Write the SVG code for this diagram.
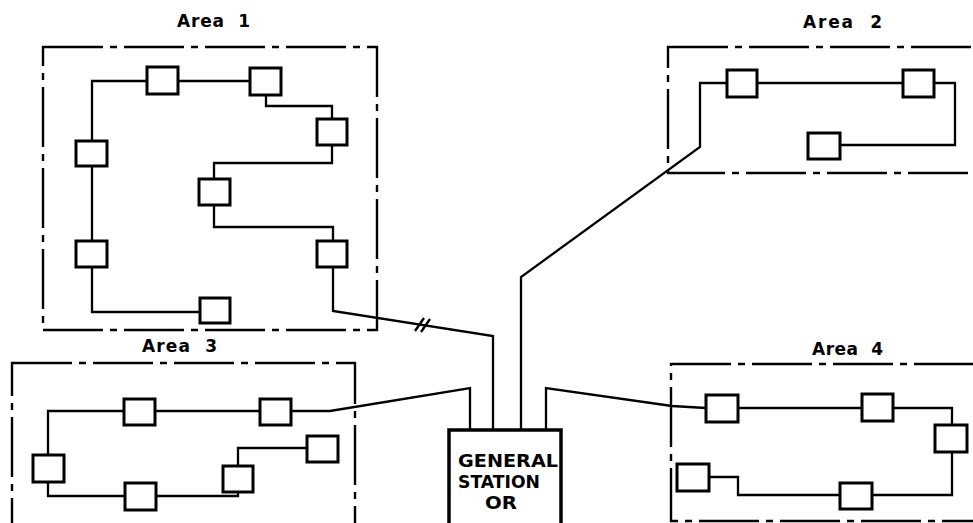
<svg xmlns="http://www.w3.org/2000/svg" width="973" height="523" viewBox="0 0 973 523">
<style>
.area{fill:none;stroke:#000;stroke-width:2.4;stroke-dasharray:60 7 7 7}
.node{fill:#fff;stroke:#000;stroke-width:3}
.wire{fill:none;stroke:#000;stroke-width:2.3;stroke-linejoin:miter}
.lbl{font-family:"DejaVu Sans","Liberation Sans",sans-serif;font-size:17px;font-weight:bold;fill:#000}
.st{font-family:"DejaVu Sans","Liberation Sans",sans-serif;font-size:18px;font-weight:bold;fill:#000}
</style>
<rect width="973" height="523" fill="#fff"/>

<g id="area1">
<rect class="area" x="43" y="47" width="334" height="283"/>
<text class="lbl" x="177" y="27" textLength="73" lengthAdjust="spacing" xml:space="preserve">Area  1</text>
</g>
<g id="area2">
<rect class="area" x="668" y="47" width="330" height="126"/>
<text class="lbl" x="803" y="28" textLength="79" lengthAdjust="spacing" xml:space="preserve">Area  2</text>
</g>
<g id="area3">
<rect class="area" x="12" y="363" width="343" height="200"/>
<text class="lbl" x="142" y="352" textLength="75" lengthAdjust="spacing" xml:space="preserve">Area  3</text>
</g>
<g id="area4">
<rect class="area" x="671" y="364" width="330" height="157"/>
<text class="lbl" x="812" y="355" textLength="71" lengthAdjust="spacing" xml:space="preserve">Area  4</text>
</g>

<g id="connectors">
<!-- Area 1 -->
<polyline class="wire" points="147,81 92,81 92,141"/>
<line class="wire" x1="178" y1="81" x2="250" y2="81"/>
<polyline class="wire" points="266,95 266,106 332,106 332,119"/>
<polyline class="wire" points="332,145 332,163 214,163 214,179"/>
<polyline class="wire" points="214,205 214,227 333,227 333,241"/>
<line class="wire" x1="92" y1="166" x2="92" y2="241"/>
<polyline class="wire" points="92,267 92,312 200,312"/>
<polyline class="wire" points="333,267 333,311 493,336 493,430"/>
<line class="wire" x1="415" y1="331" x2="424" y2="318"/>
<line class="wire" x1="421" y1="332" x2="430" y2="319"/>
<!-- Area 2 -->
<line class="wire" x1="757" y1="83" x2="903" y2="83"/>
<polyline class="wire" points="934,83 955,83 955,145 840,145"/>
<polyline class="wire" points="727,83 700,83 700,147 521,277 521,430"/>
<!-- Area 3 -->
<polyline class="wire" points="48,455 48,411 124,411"/>
<line class="wire" x1="155" y1="411" x2="260" y2="411"/>
<polyline class="wire" points="291,411 330,411 470,388 470,430"/>
<polyline class="wire" points="48,482 48,496 125,496"/>
<polyline class="wire" points="156,496 238,496 238,492"/>
<polyline class="wire" points="238,466 238,448 307,448"/>
<!-- Area 4 -->
<polyline class="wire" points="546,430 546,388 672,406 706,408"/>
<line class="wire" x1="738" y1="408" x2="862" y2="408"/>
<polyline class="wire" points="893,408 952,408 952,425"/>
<polyline class="wire" points="952,452 952,495 872,495"/>
<polyline class="wire" points="840,495 738,495 738,477 709,477"/>
</g>

<g id="a1-n1"><rect class="node" x="147" y="67" width="31" height="27"/></g>
<g id="a1-n2"><rect class="node" x="250" y="68" width="31" height="27"/></g>
<g id="a1-n3"><rect class="node" x="317" y="119" width="30" height="26"/></g>
<g id="a1-n4"><rect class="node" x="199" y="179" width="31" height="26"/></g>
<g id="a1-n5"><rect class="node" x="76" y="141" width="31" height="25"/></g>
<g id="a1-n6"><rect class="node" x="76" y="241" width="31" height="26"/></g>
<g id="a1-n7"><rect class="node" x="317" y="241" width="30" height="26"/></g>
<g id="a1-n8"><rect class="node" x="200" y="298" width="30" height="25"/></g>

<g id="a2-n1"><rect class="node" x="727" y="70" width="30" height="27"/></g>
<g id="a2-n2"><rect class="node" x="903" y="70" width="31" height="27"/></g>
<g id="a2-n3"><rect class="node" x="808" y="133" width="32" height="26"/></g>

<g id="a3-n1"><rect class="node" x="124" y="399" width="31" height="26"/></g>
<g id="a3-n2"><rect class="node" x="260" y="399" width="31" height="26"/></g>
<g id="a3-n3"><rect class="node" x="33" y="455" width="31" height="27"/></g>
<g id="a3-n4"><rect class="node" x="125" y="483" width="31" height="27"/></g>
<g id="a3-n5"><rect class="node" x="223" y="466" width="30" height="26"/></g>
<g id="a3-n6"><rect class="node" x="307" y="436" width="31" height="26"/></g>

<g id="a4-n1"><rect class="node" x="706" y="395" width="32" height="27"/></g>
<g id="a4-n2"><rect class="node" x="862" y="394" width="31" height="27"/></g>
<g id="a4-n3"><rect class="node" x="935" y="425" width="32" height="27"/></g>
<g id="a4-n4"><rect class="node" x="677" y="464" width="32" height="27"/></g>
<g id="a4-n5"><rect class="node" x="840" y="483" width="32" height="26"/></g>

<g id="station">
<rect x="449" y="430" width="112" height="110" fill="#fff" stroke="#000" stroke-width="3.5"/>
<text class="st" x="458" y="467" textLength="100" lengthAdjust="spacingAndGlyphs">GENERAL</text>
<text class="st" x="458" y="488" textLength="82" lengthAdjust="spacingAndGlyphs">STATION</text>
<text class="st" x="485" y="509" textLength="32" lengthAdjust="spacingAndGlyphs">OR</text>
</g>
</svg>
